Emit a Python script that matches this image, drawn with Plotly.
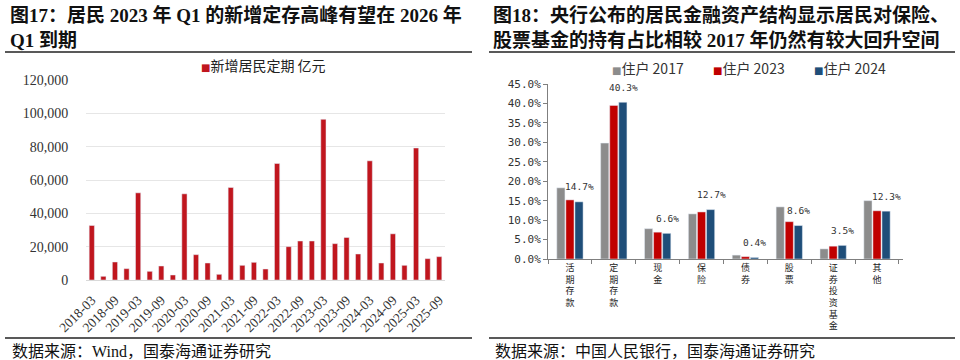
import plotly.graph_objects as go

# ---------------- data: left chart ----------------
quarters = ["2018-03", "2018-06", "2018-09", "2018-12",
            "2019-03", "2019-06", "2019-09", "2019-12",
            "2020-03", "2020-06", "2020-09", "2020-12",
            "2021-03", "2021-06", "2021-09", "2021-12",
            "2022-03", "2022-06", "2022-09", "2022-12",
            "2023-03", "2023-06", "2023-09", "2023-12",
            "2024-03", "2024-06", "2024-09", "2024-12",
            "2025-03", "2025-06", "2025-09"]
new_time_deposits = [32700, 2200, 10800, 6800,
                     52300, 5200, 8400, 3000,
                     51700, 15200, 10200, 3400,
                     55500, 8800, 10600, 6600,
                     69900, 20000, 23400, 23400,
                     96400, 21800, 25500, 15600,
                     71500, 10200, 27700, 8800,
                     79200, 12800, 14000]
left_tick_labels = ["2018-03", "2018-09", "2019-03", "2019-09", "2020-03", "2020-09",
                    "2021-03", "2021-09", "2022-03", "2022-09", "2023-03", "2023-09",
                    "2024-03", "2024-09", "2025-03", "2025-09"]
left_series_name = "新增居民定期 亿元"

# ---------------- data: right chart ----------------
asset_categories = ["活期存款", "定期存款", "现金", "保险", "债券", "股票", "证券投资基金", "其他"]
share_2017 = [18.3, 29.8, 7.8, 11.6, 1.0, 13.4, 2.6, 15.0]
share_2023 = [15.2, 39.5, 6.9, 12.1, 0.6, 9.6, 3.3, 12.4]
share_2024 = [14.7, 40.3, 6.6, 12.7, 0.4, 8.6, 3.5, 12.3]
right_series_names = ["住户 2017", "住户 2023", "住户 2024"]

RED = "#c0161e"
GRAY = "#8c8c8c"
RED2 = "#c00000"
BLUE = "#1f4e79"
SERIF = "Liberation Serif, Noto Sans CJK SC"
CJK = "Noto Sans CJK SC"
MONO = "DejaVu Sans Mono"

W, H = 960, 360


def px_x(p):
    return p / W


def px_y(p):
    return 1 - p / H


fig = go.Figure()

fig.add_trace(go.Bar(
    x=quarters, y=new_time_deposits, name=left_series_name,
    marker_color=RED, width=0.45, offset=-0.225,
    xaxis="x", yaxis="y", showlegend=False,
))

for name, vals, col in zip(right_series_names, [share_2017, share_2023, share_2024], [GRAY, RED2, BLUE]):
    fig.add_trace(go.Bar(
        x=asset_categories, y=vals, name=name, marker_color=col,
        xaxis="x2", yaxis="y2", showlegend=False,
    ))

annotations = []
# data labels for the 2024 series
for cat, v in zip(asset_categories, share_2024):
    annotations.append(dict(
        x=cat, y=v, xref="x2", yref="y2", text=f"{v:.1f}%",
        showarrow=False, xshift=9.5, yshift=15, yanchor="middle",
        font=dict(family=MONO, size=9.5, color="#333333"),
    ))

# titles
annotations.append(dict(
    x=px_x(8), y=px_y(2), xref="paper", yref="paper", xanchor="left", yanchor="top",
    align="left", showarrow=False,
    text="<b>图17：居民 2023 年 Q1 的新增定存高峰有望在 2026 年<br>Q1 到期</b>",
    font=dict(family=SERIF, size=19, color="#111111"),
))
annotations.append(dict(
    x=px_x(491), y=px_y(2), xref="paper", yref="paper", xanchor="left", yanchor="top",
    align="left", showarrow=False,
    text="<b>图18：央行公布的居民金融资产结构显示居民对保险、<br>股票基金的持有占比相较 2017 年仍然有较大回升空间</b>",
    font=dict(family=SERIF, size=19, color="#111111"),
))
# sources
annotations.append(dict(
    x=px_x(10), y=px_y(351), xref="paper", yref="paper", xanchor="left", yanchor="middle",
    showarrow=False, text="数据来源：Wind，国泰海通证券研究",
    font=dict(family=SERIF, size=16, color="#111111"),
))
annotations.append(dict(
    x=px_x(493), y=px_y(351), xref="paper", yref="paper", xanchor="left", yanchor="middle",
    showarrow=False, text="数据来源：中国人民银行，国泰海通证券研究",
    font=dict(family=SERIF, size=16, color="#111111"),
))
# legends drawn as text
annotations.append(dict(
    x=px_x(199), y=px_y(65), xref="paper", yref="paper", xanchor="left", yanchor="middle",
    showarrow=False,
    text=f"<span style='font-family:DejaVu Sans;font-size:10px;color:{RED}'>■</span>{left_series_name}",
    font=dict(family=CJK, size=14, color="#222222"),
))
for i, (name, col) in enumerate(zip(right_series_names, [GRAY, RED2, BLUE])):
    annotations.append(dict(
        x=px_x(610 + 101 * i), y=px_y(68), xref="paper", yref="paper", xanchor="left", yanchor="middle",
        showarrow=False,
        text=f"<span style='font-family:DejaVu Sans;font-size:10px;color:{col}'>■</span>{name}",
        font=dict(family=CJK, size=14, color="#333333"),
    ))

shapes = []
for x0, x1 in [(5, 472), (489, 955)]:
    for yy in (52, 338):
        shapes.append(dict(type="line", xref="paper", yref="paper",
                           x0=px_x(x0), x1=px_x(x1), y0=px_y(yy), y1=px_y(yy),
                           line=dict(color="#222222", width=1.5)))

fig.update_layout(
    width=W, height=H,
    margin=dict(l=0, r=0, t=0, b=0, autoexpand=False),
    paper_bgcolor="white", plot_bgcolor="white",
    barmode="group", bargap=0.38, bargroupgap=0.1,
    showlegend=False,
    annotations=annotations, shapes=shapes,
    xaxis=dict(
        domain=[px_x(86), px_x(445)], anchor="y", type="category", automargin=False,
        categoryorder="array", categoryarray=quarters,
        tickmode="array", tickvals=left_tick_labels, ticktext=left_tick_labels,
        tickangle=-45, tickfont=dict(family=SERIF, size=13.5, color="#333333"),
        showgrid=False, showline=False, ticks="outside", ticklen=6,
        tickcolor="rgba(0,0,0,0)", range=[-0.5, len(quarters) - 0.5],
    ),
    yaxis=dict(
        domain=[px_y(280), px_y(80)], anchor="x", range=[0, 120000], dtick=20000,
        automargin=False,
        tickformat=",", tickfont=dict(family=SERIF, size=14, color="#333333"),
        showgrid=True, gridcolor="#e6e6e6", gridwidth=1,
        zeroline=True, zerolinecolor="#d9d9d9", zerolinewidth=1,
        showline=False, ticks="outside", ticklen=14, tickcolor="rgba(0,0,0,0)",
    ),
    xaxis2=dict(
        domain=[px_x(548), px_x(903)], anchor="y2", type="category", automargin=False,
        categoryorder="array", categoryarray=asset_categories,
        tickmode="array", tickvals=asset_categories,
        ticktext=["<br>".join(list(c)) for c in asset_categories],
        tickangle=0, tickfont=dict(family=CJK, size=9, color="#222222"),
        showline=True, linecolor="#7f7f7f", linewidth=1,
        ticks="outside", tickson="boundaries", ticklen=4, tickcolor="#7f7f7f",
        showgrid=False, zeroline=False,
    ),
    yaxis2=dict(
        domain=[px_y(259), px_y(84)], anchor="x2", range=[0, 45], dtick=5,
        automargin=False,
        tickformat=".1f", ticksuffix="%",
        tickfont=dict(family=MONO, size=11, color="#333333"),
        showline=True, linecolor="#7f7f7f", linewidth=1,
        ticks="outside", ticklen=4, tickcolor="#7f7f7f",
        showgrid=False, zeroline=False,
    ),
)

fig.write_html("out.html", config={"displayModeBar": False},
               post_script="document.body.style.margin='0';document.body.style.overflow='hidden';")
